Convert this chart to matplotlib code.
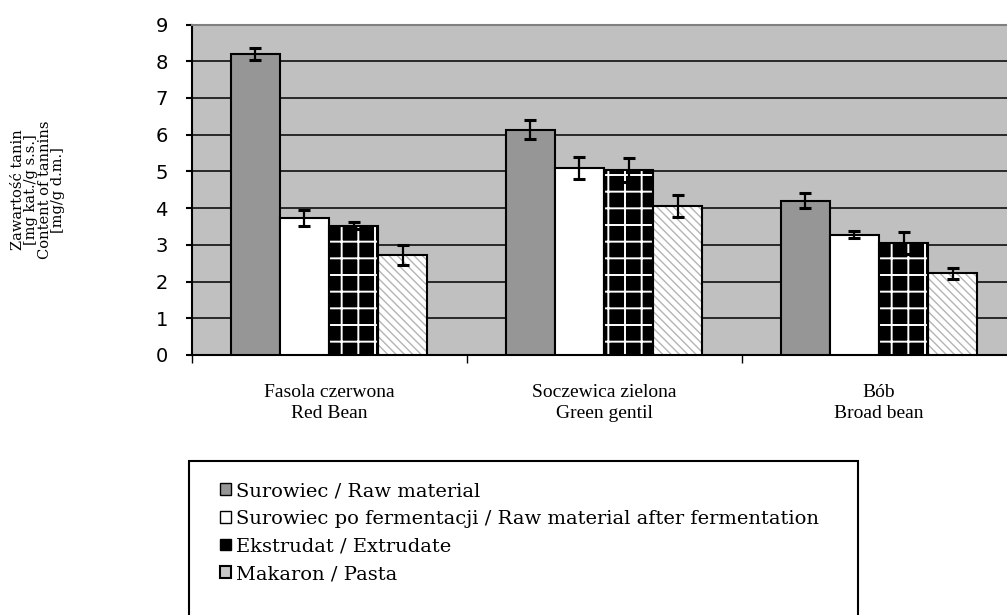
import matplotlib
matplotlib.use("Agg")
import matplotlib.pyplot as plt
import numpy as np
from matplotlib.patches import Patch, Rectangle

categories = ["Fasola czerwona\nRed Bean", "Soczewica zielona\nGreen gentil", "Bób\nBroad bean"]
series_names = ["Surowiec / Raw material",
                "Surowiec po fermentacji / Raw material after fermentation",
                "Ekstrudat / Extrudate",
                "Makaron / Pasta"]
raw = [8.19, 6.13, 4.20]
raw_err = [0.16, 0.26, 0.20]
fermented = [3.74, 5.10, 3.28]
fermented_err = [0.22, 0.30, 0.10]
extrudate = [3.52, 5.04, 3.05]
extrudate_err = [0.10, 0.33, 0.31]
pasta = [2.72, 4.05, 2.23]
pasta_err = [0.27, 0.30, 0.15]
yticks = [0, 1, 2, 3, 4, 5, 6, 7, 8, 9]

W, H = 1007, 615
fig = plt.figure(figsize=(W / 100, H / 100), dpi=100)
fig.patch.set_facecolor("white")
left, right, top, bottom = 191.5, 1016.5, 24.5, 355
ax = fig.add_axes([left / W, 1 - bottom / H, (right - left) / W, (bottom - top) / H])
ax.set_facecolor("#c0c0c0")

x = np.arange(len(categories))
bw = 0.179
offsets = [-1.5 * bw, -0.5 * bw, 0.5 * bw, 1.5 * bw]
err_kw = dict(ecolor="black", elinewidth=1.6, capsize=4.5, capthick=2.2)

plt.rcParams["hatch.linewidth"] = 1.4
# Raw material
ax.bar(x + offsets[0], raw, bw, color="#969696", edgecolor="black", linewidth=1.5,
       yerr=raw_err, error_kw=err_kw, zorder=3)
# After fermentation
ax.bar(x + offsets[1], fermented, bw, color="white", edgecolor="black", linewidth=1.5,
       yerr=fermented_err, error_kw=err_kw, zorder=3)
# Extrudate: black with white grid
ax.bar(x + offsets[2], extrudate, bw, color="black", edgecolor="white", hatch="+",
       linewidth=0, zorder=3)
ax.bar(x + offsets[2], extrudate, bw, fill=False, edgecolor="black", linewidth=1.5,
       yerr=extrudate_err, error_kw=err_kw, zorder=4)
# Pasta: light diagonal stripes
with plt.rc_context({"hatch.linewidth": 1.0}):
    ax.bar(x + offsets[3], pasta, bw, color="white", edgecolor="#b4b4b4", hatch="\\\\\\\\",
           linewidth=0, zorder=3)
ax.bar(x + offsets[3], pasta, bw, fill=False, edgecolor="black", linewidth=1.5,
       yerr=pasta_err, error_kw=err_kw, zorder=4)

ax.set_xlim(-0.5, len(categories) - 0.5)
ax.set_ylim(0, 9)
ax.set_yticks(yticks)
ax.yaxis.grid(True, color="black", linewidth=1.1)
ax.set_axisbelow(True)

ax.set_xticks(np.arange(len(categories) + 1) - 0.5, minor=False)
ax.set_xticklabels([])
ax.set_xticks(x, minor=True)
ax.set_xticklabels(categories, minor=True, fontsize=14, family="Liberation Serif",
                   linespacing=1.3)
ax.tick_params(axis="x", which="minor", length=0, pad=21)
ax.tick_params(axis="x", which="major", length=5.5, width=1.0, direction="out")
ax.tick_params(axis="y", length=4.5, width=1.5, direction="out", pad=12.5)
for lbl in ax.get_yticklabels():
    lbl.set_family(["Liberation Sans Narrow", "DejaVu Sans"])
    lbl.set_fontsize(14)

for s in ("left", "bottom"):
    ax.spines[s].set_color("black")
    ax.spines[s].set_linewidth(1.5)
ax.spines["top"].set_color("#808080")
ax.spines["top"].set_linewidth(1.5)
ax.spines["right"].set_visible(False)

fig.text(38 / W, 1 - 190 / H,
         "Zawartość tanin\n[mg kat./g s.s.]\nContent of tannins\n[mg/g d.m.]",
         rotation=90, ha="center", va="center", multialignment="center",
         family="DejaVu Serif", fontsize=10.5, linespacing=0.95)

# legend frame (extends below the figure edge, as in the reference)
fig.patches.append(Rectangle((189 / W, -0.05), (858 - 189) / W, (1 - 461 / H) + 0.05,
                             transform=fig.transFigure, facecolor="white",
                             edgecolor="black", linewidth=1.5, zorder=1))

handles = [
    Patch(facecolor="#969696", edgecolor="black", linewidth=1.0),
    Patch(facecolor="white", edgecolor="black", linewidth=1.0),
    Patch(facecolor="black", edgecolor="black", linewidth=1.0),
    Patch(facecolor="#c8c8c8", edgecolor="black", linewidth=1.5),
]
leg = fig.legend(handles, series_names, loc="upper left",
                 bbox_to_anchor=(220 / W, 1 - 482 / H),
                 frameon=False, prop={"family": "DejaVu Serif", "size": 14},
                 handlelength=0.55, handleheight=0.55, handletextpad=0.25,
                 labelspacing=0.5, borderpad=0, borderaxespad=0)
leg.set_zorder(5)

fig.savefig("out.png", dpi=100)
